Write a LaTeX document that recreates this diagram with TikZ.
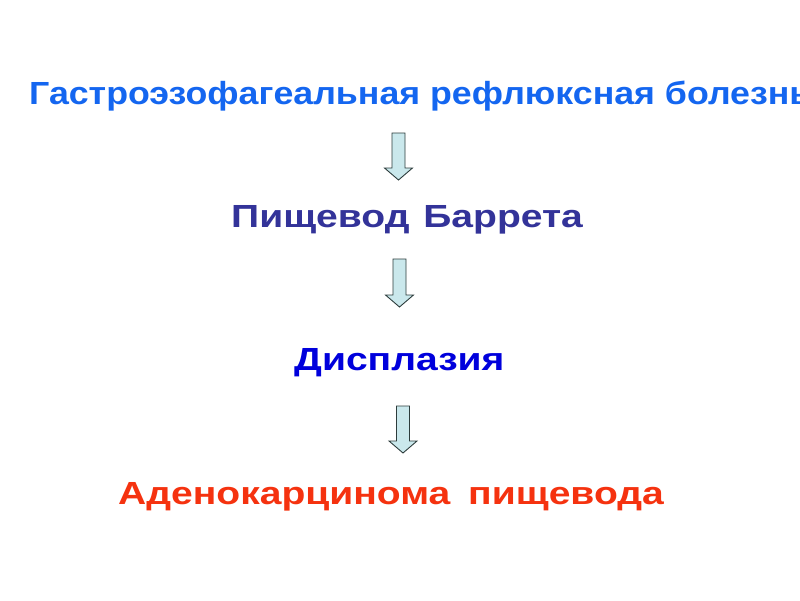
\documentclass[tikz,border=0pt]{standalone}
\usepackage{fontspec}
\setmainfont{Liberation Sans}
\newfontfamily\stagefont[FakeStretch=1.22]{Liberation Sans}
\newfontfamily\gerdfont[FakeStretch=1.117]{Liberation Sans}
\definecolor{gerdblue}{RGB}{20,102,240}
\definecolor{barrettblue}{RGB}{51,51,153}
\definecolor{dysblue}{RGB}{0,0,220}
\definecolor{adenored}{RGB}{245,50,15}
\definecolor{arrowfill}{RGB}{202,232,236}
\definecolor{arrowline}{RGB}{45,60,60}
\tikzset{
  stage/.style={anchor=base west, inner sep=0pt, font=\stagefont\bfseries\fontsize{32}{36}\selectfont},
  blockarrow/.style={draw=arrowline, fill=arrowfill, line width=0.9pt, line join=miter}
}

\begin{document}
\begin{tikzpicture}[x=1pt,y=-1pt]
\clip (0,0) rectangle (800,600);
\fill[white] (0,0) rectangle (800,600);

\node[stage, text=gerdblue, font=\gerdfont\bfseries\fontsize{32}{36}\selectfont] (gerd) at (29,104) {Гастроэзофагеальная рефлюксная болезнь};
\node[stage, text=barrettblue] (barrett) at (231,227) {Пищевод\hspace{3pt} Баррета};
\node[stage, text=dysblue] (dysplasia) at (294,370) {Дисплазия};
\node[stage, text=adenored] (adeno) at (118,504) {Аденокарцинома\hspace{7pt} пищевода};

% arrows between the stages
\draw[blockarrow] (392,133) -- (405,133) -- (405,168) -- (412.5,168) -- (398.5,180)
  -- (384.5,168) -- (392,168) -- cycle;
\draw[blockarrow] (393,259) -- (406,259) -- (406,295) -- (413.5,295) -- (399.5,307)
  -- (385.5,295) -- (393,295) -- cycle;
\draw[blockarrow] (396.5,406) -- (409.5,406) -- (409.5,441) -- (417,441) -- (403,453)
  -- (389,441) -- (396.5,441) -- cycle;
\end{tikzpicture}
\end{document}
